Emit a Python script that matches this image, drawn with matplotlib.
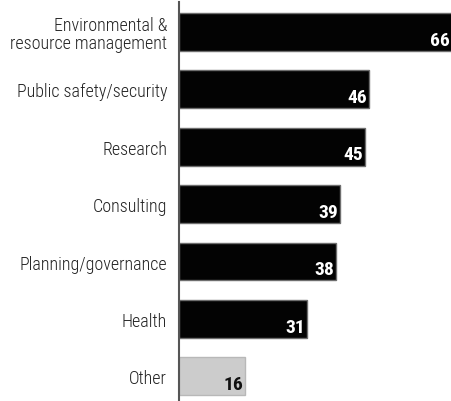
import matplotlib
matplotlib.use("Agg")
import matplotlib.pyplot as plt

categories = ["Environmental &\nresource management", "Public safety/security",
              "Research", "Consulting", "Planning/governance", "Health", "Other"]
values = [66, 46, 45, 39, 38, 31, 16]
bar_colors = ["#030303"] * 6 + ["#cccccc"]
edge_colors = ["#6e6e6e"] * 6 + ["#b8b8b8"]
value_colors = ["white"] * 6 + ["#111111"]

font = ["Roboto Condensed", "Archivo Narrow", "DejaVu Sans"]

fig = plt.figure(figsize=(4.52, 4.02), dpi=100)
ax = fig.add_axes([179 / 452, 0, 1 - 179 / 452, 1 - 3 / 402])

pos = list(range(len(values)))
ax.barh(pos, values, height=0.66, color=bar_colors, edgecolor=edge_colors, linewidth=1.0)

for i, v in enumerate(values):
    ax.text(v - 0.45, i + 0.22, str(v), ha="right", va="baseline",
            color=value_colors[i], fontsize=14, fontweight="bold", family=font)

ax.set_xlim(0, 66.1)
ax.set_ylim(6.43, -0.522)
ax.set_yticks(pos)
ax.set_yticklabels(categories, family=font, fontsize=13, fontweight="light",
                   color="#222222", linespacing=1.0)
ax.tick_params(axis="y", length=0, pad=8.6)
ax.set_xticks([])

for side in ["top", "right", "bottom"]:
    ax.spines[side].set_visible(False)
ax.spines["left"].set_color("#555555")
ax.spines["left"].set_linewidth(1.5)

fig.savefig("out.png", dpi=100)
